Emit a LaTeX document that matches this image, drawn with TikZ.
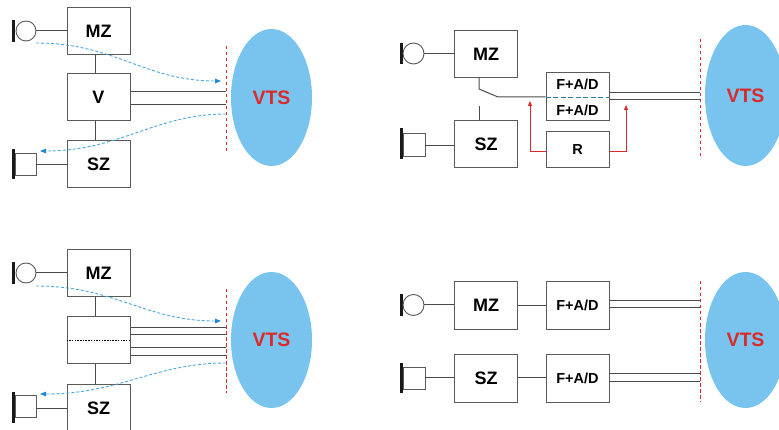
\documentclass[tikz,border=0pt]{standalone}
\usepackage{fontspec}
\setmainfont{Liberation Sans}
\usetikzlibrary{arrows.meta,shapes.geometric}
\definecolor{vtsblue}{HTML}{78C4EE}
\definecolor{vtsred}{HTML}{DC2A2A}
\definecolor{sigblue}{HTML}{4AA6E2}
\definecolor{tipblue}{HTML}{1E88D2}
\definecolor{boxgray}{HTML}{5A5A5A}
\definecolor{wiregray}{HTML}{4A4A4A}
\begin{document}
\begin{tikzpicture}[x=1pt,y=-1pt,
	box/.style={draw=boxgray,line width=1pt,fill=white,rectangle,minimum width=63pt,minimum height=47pt,inner sep=0pt,font=\bfseries\fontsize{18pt}{18pt}\selectfont},
	smallbox/.style={box,font=\bfseries\fontsize{14.5pt}{14.5pt}\selectfont},
	bar/.style={rectangle,fill=black!90,draw=none,minimum width=3pt,inner sep=0pt},
	mic/.style={circle,draw=boxgray,line width=0.9pt,fill=white,minimum size=20pt,inner sep=0pt},
	spk/.style={rectangle,draw=boxgray,line width=0.9pt,fill=white,minimum width=21pt,minimum height=22pt,inner sep=0pt},
	wire/.style={draw=wiregray,line width=1pt},
	bound/.style={draw=vtsred,line width=0.9pt,dash pattern=on 3.5pt off 2.5pt},
	sig/.style={draw=sigblue,line width=0.9pt,dash pattern=on 3pt off 2pt,-{Triangle[length=6pt,width=4.5pt,color=tipblue]}},
	ctl/.style={draw=vtsred,line width=0.9pt,-{Triangle[length=5pt,width=4pt]}},
	cloud/.style={ellipse,fill=vtsblue,draw=none,minimum width=81pt,minimum height=137pt,inner sep=0pt,text=vtsred,font=\bfseries\fontsize{19.5pt}{19.5pt}\selectfont}]
	\useasboundingbox (0,0) rectangle (779,430);

	% top left: analog telephone
	\node[bar,minimum height=22pt] (bar1) at (13.5,31) {};
	\node[mic] (mic1) at (26,31) {};
	\node[box] (MZ1) at (98.5,31) {MZ};
	\node[box] (V1) at (98.5,97.5) {V};
	\node[box] (SZ1) at (98.5,164.5) {SZ};
	\node[bar,minimum height=30pt] (sbar1) at (13.5,164) {};
	\node[spk] (spk1) at (25.5,164) {};
	\node[cloud] (VTS1) at (271.5,97.5) {VTS};
	\coordinate (bnd1) at (226,46);
	\draw[bound] (bnd1) -- (226,151);
	\draw[wire] (mic1.east) -- (MZ1.west |- mic1.east);
	\draw[wire] (spk1.east |- 0,165) -- (SZ1.west |- 0,165);
	\draw[wire] (MZ1.south -| 95,0) -- (V1.north -| 95,0);
	\draw[wire] (V1.south -| 95,0) -- (SZ1.north -| 95,0);
	\draw[wire] (V1.east |- 0,92) -- (bnd1 |- 0,92);
	\draw[wire] (V1.east |- 0,105) -- (bnd1 |- 0,105);
	\coordinate (s1a) at (36,43);
	\coordinate (s1b) at (221,81);
	\coordinate (s1c) at (226,114);
	\coordinate (s1d) at (40,151);
	\draw[sig] (s1a) .. controls (115,43) and (145,81) .. (s1b);
	\draw[sig] (s1c) .. controls (155,114) and (120,151) .. (s1d);

	% bottom left: four wire
	\node[bar,minimum height=22pt] (bar2) at (13.5,273) {};
	\node[mic] (mic2) at (26,273) {};
	\node[box] (MZ2) at (98.5,273) {MZ};
	\node[box] (V2) at (98.5,340) {};
	\node[box] (SZ2) at (98.5,408) {SZ};
	\node[bar,minimum height=31pt] (sbar2) at (13.5,407.5) {};
	\node[spk] (spk2) at (25.5,406.5) {};
	\node[cloud,minimum height=136pt] (VTS2) at (271.5,340) {VTS};
	\coordinate (bnd2) at (226,289);
	\draw[bound] (bnd2) -- (226,393);
	\draw[black,line width=0.8pt,dash pattern=on 1.5pt off 1.2pt] (V2.west) -- (V2.east);
	\draw[wire] (mic2.east) -- (MZ2.west |- mic2.east);
	\draw[wire] (spk2.east |- 0,408) -- (SZ2.west |- 0,408);
	\draw[wire] (MZ2.south -| 95,0) -- (V2.north -| 95,0);
	\draw[wire] (V2.south -| 95,0) -- (SZ2.north -| 95,0);
	\foreach \ly in {327,334,347,355}
		\draw[wire] (V2.east |- 0,\ly) -- (bnd2 |- 0,\ly);
	\coordinate (s2a) at (36,286);
	\coordinate (s2b) at (221,321);
	\coordinate (s2c) at (226,363);
	\coordinate (s2d) at (40,394);
	\draw[sig] (s2a) .. controls (115,286) and (145,321) .. (s2b);
	\draw[sig] (s2c) .. controls (155,363) and (120,394) .. (s2d);

	% top right: digital with switch
	\node[bar,minimum height=21pt] (bar3) at (401.5,53.5) {};
	\node[mic,minimum size=21pt] (mic3) at (413.5,53.5) {};
	\node[box] (MZ3) at (486,54) {MZ};
	\node[box] (SZ3) at (486,144.5) {SZ};
	\node[bar,minimum height=31pt] (sbar3) at (401.5,143.5) {};
	\node[spk,minimum width=22pt,minimum height=23pt] (spk3) at (414,144.5) {};
	\node[smallbox,minimum height=48pt] (FA3) at (577.5,97) {};
	\node[font=\bfseries\fontsize{14.5pt}{14.5pt}\selectfont] (FA3a) at (577.5,84.5) {F+A/D};
	\node[font=\bfseries\fontsize{14.5pt}{14.5pt}\selectfont] (FA3b) at (577.5,110.5) {F+A/D};
	\node[smallbox,minimum height=36pt] (R3) at (577.5,150) {R};
	\node[cloud,minimum height=141pt] (VTS3) at (745.5,95.5) {VTS};
	\coordinate (bnd3) at (700,39);
	\draw[bound] (bnd3) -- (700,159);
	\draw[draw=sigblue!70!black,line width=0.9pt,dash pattern=on 5pt off 2.5pt] (FA3.west) -- (FA3.east);
	\draw[wire] (mic3.east) -- (MZ3.west |- mic3.east);
	\draw[wire] (spk3.east |- 0,146) -- (SZ3.west |- 0,146);
	\coordinate (sw) at (479,89);
	\draw[wire] (MZ3.south -| sw) -- (sw) -- (498,97) -- (FA3.west);
	\draw[wire] (479,106) -- (SZ3.north -| sw);
	\draw[wire] (FA3.east |- 0,93) -- (bnd3 |- 0,93);
	\draw[wire] (FA3.east |- 0,100) -- (bnd3 |- 0,100);
	\draw[ctl] (R3.west |- 0,151) -| (530,101);
	\draw[ctl] (R3.east |- 0,151) -| (626,105);

	% bottom right: digital four wire
	\node[bar,minimum height=22pt] (bar4) at (401.5,305) {};
	\node[mic,minimum size=21pt] (mic4) at (413.5,305) {};
	\node[box] (MZ4) at (486,305.5) {MZ};
	\node[smallbox] (FA4) at (577.5,305.5) {F+A/D};
	\node[box,minimum height=48pt] (SZ4) at (486,378) {SZ};
	\node[smallbox,minimum height=48pt] (FA5) at (577.5,378) {F+A/D};
	\node[bar,minimum height=30pt] (sbar4) at (401.5,378) {};
	\node[spk,minimum width=22pt] (spk4) at (414,378) {};
	\node[cloud,minimum height=136pt] (VTS4) at (745.5,340) {VTS};
	\coordinate (bnd4) at (700,281);
	\draw[bound] (bnd4) -- (700,402);
	\draw[wire] (mic4.east) -- (MZ4.west |- mic4.east);
	\draw[wire] (MZ4.east |- 0,306) -- (FA4.west |- 0,306);
	\draw[wire] (spk4.east |- 0,377) -- (SZ4.west |- 0,377);
	\draw[wire] (SZ4.east |- 0,377) -- (FA5.west |- 0,377);
	\draw[wire] (FA4.east |- 0,301) -- (bnd4 |- 0,301);
	\draw[wire] (FA4.east |- 0,308) -- (bnd4 |- 0,308);
	\draw[wire] (FA5.east |- 0,373) -- (bnd4 |- 0,373);
	\draw[wire] (FA5.east |- 0,381) -- (bnd4 |- 0,381);
\end{tikzpicture}
\end{document}
